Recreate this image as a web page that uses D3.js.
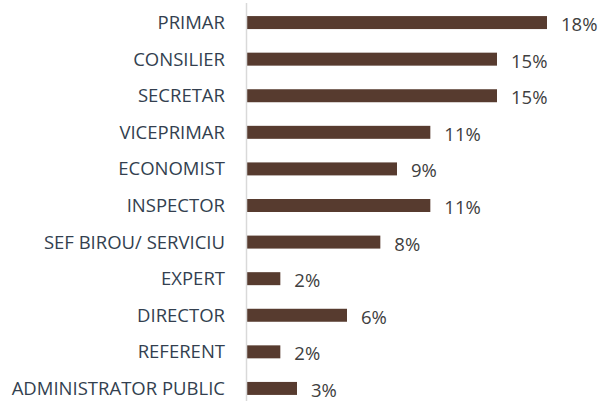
<!DOCTYPE html>
<meta charset="utf-8">
<style>
body{ margin: 0; background: white; }
svg{ display: block; }
.cat{ font-family: "Open Sans", sans-serif; font-size: 18.5px; fill: #333f4f; }
.val{ font-family: "Open Sans", sans-serif; font-size: 18.5px; fill: #404040; }
</style>
<div id="chart"></div>
<script src="https://cdn.jsdelivr.net/npm/d3@7"></script>
<script>
var categories = ['PRIMAR', 'CONSILIER', 'SECRETAR', 'VICEPRIMAR', 'ECONOMIST', 'INSPECTOR',
                  'SEF BIROU/ SERVICIU', 'EXPERT', 'DIRECTOR', 'REFERENT', 'ADMINISTRATOR PUBLIC']
var values = [18, 15, 15, 11, 9, 11, 8, 2, 6, 2, 3]
var valueLabels = ['18%', '15%', '15%', '11%', '9%', '11%', '8%', '2%', '6%', '2%', '3%']

var width = 603, height = 403
var x0 = 247

var svg = d3.select('#chart').append('svg')
    .attr('width', width)
    .attr('height', height)

var x = d3.scaleLinear().domain([0, 18]).range([x0, 547])
var y = d3.scaleBand().domain(categories).range([4, 407]).paddingInner(0.645).paddingOuter(0.33)

svg.selectAll('rect.bar')
    .data(values)
  .enter().append('rect')
    .attr('class', 'bar')
    .attr('x', x(0))
    .attr('y', function(d, i){ return y(categories[i]) })
    .attr('width', function(d){ return x(d) - x(0) })
    .attr('height', y.bandwidth())
    .attr('fill', '#573b2f')

// vertical axis line
svg.append('line')
    .attr('x1', x0 - 0.5).attr('x2', x0 - 0.5)
    .attr('y1', 3).attr('y2', 401)
    .attr('stroke', '#d9d9d9')
    .attr('stroke-width', 1.5)

svg.selectAll('text.cat')
    .data(categories)
  .enter().append('text')
    .attr('class', 'cat')
    .attr('x', 225)
    .attr('y', function(d){ return y(d) + y.bandwidth() / 2 })
    .attr('dy', '0.35em')
    .attr('text-anchor', 'end')
    .text(function(d){ return d })

svg.selectAll('text.val')
    .data(values)
  .enter().append('text')
    .attr('class', 'val')
    .attr('x', function(d){ return x(d) + 14 })
    .attr('y', function(d, i){ return y(categories[i]) + y.bandwidth() / 2 + 2 })
    .attr('dy', '0.35em')
    .text(function(d, i){ return valueLabels[i] })
</script>
